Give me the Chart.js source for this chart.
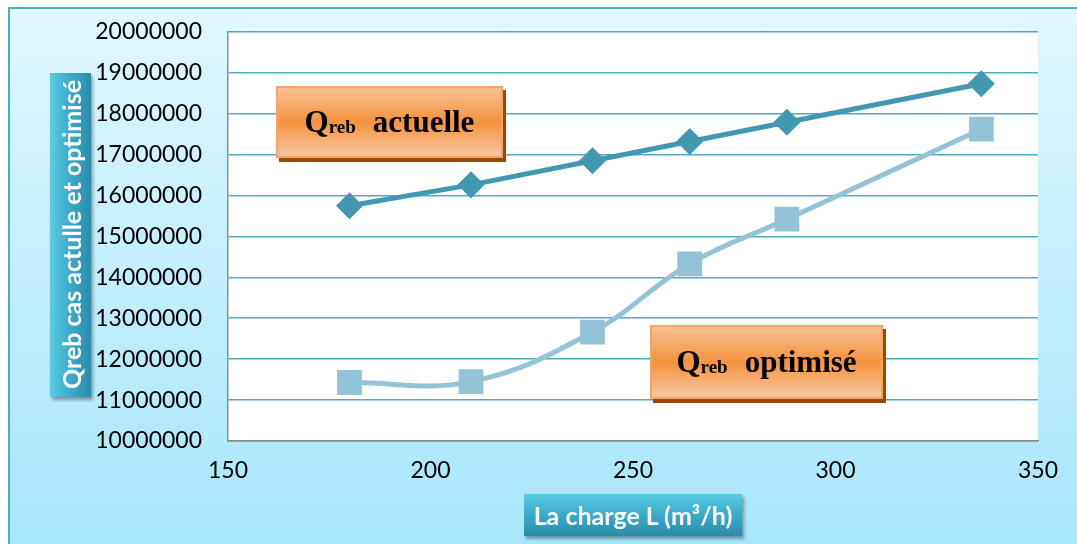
<!DOCTYPE html>
<html>
<head>
<meta charset="utf-8">
<script src="https://cdn.jsdelivr.net/npm/chart.js@4.4.1/dist/chart.umd.min.js"></script>
<style>
  body { margin: 0; background: #ffffff; }
  #wrap { position: relative; width: 1077px; height: 544px; overflow: hidden; }
  #frame {
    position: absolute; left: 8px; top: 7px; width: 1100px; height: 560px;
    border: 2px solid #4bacc6; box-sizing: border-box;
    background: linear-gradient(to bottom, #e0f7fd 0%, #c4effb 45%, #a4e7fb 100%);
  }
  #chart { position: absolute; left: 0; top: -8px; }
  .note {
    position: absolute; box-sizing: border-box;
    border: 2px solid #f8a35f;
    background: linear-gradient(to bottom, #f9c193 0%, #f5923f 50%, #f9c6a0 100%);
    box-shadow: 3px 4px 0 #984807;
    display: flex; align-items: center; justify-content: center;
    font-family: "Liberation Serif", "Times New Roman", serif; font-weight: bold;
    font-size: 31px; color: #000;
  }
  .note span { white-space: nowrap; }
  .note sub { font-size: 19px; vertical-align: -1px; margin-right: 17px; }
  .axisTitle {
    position: absolute; box-sizing: border-box; color: #fff;
    font-family: Lato, "Open Sans", sans-serif; font-weight: bold;
    display: flex; align-items: center; justify-content: center;
    box-shadow: 2px 3px 3px rgba(0,0,0,0.35);
  }
  #yTitle {
    left: 50px; top: 73px; width: 41px; height: 324px;
    background: linear-gradient(to right, #5ccbe4 0%, #3fb0cf 40%, #2a8ca8 100%);
    font-size: 25px;
  }
  #yTitle span { writing-mode: vertical-rl; transform: rotate(180deg); white-space: nowrap; }
  #xTitle {
    left: 524px; top: 494px; width: 218px; height: 42px;
    background: linear-gradient(to bottom, #5ccbe4 0%, #3fb0cf 40%, #2a8ca8 100%);
    font-size: 25px; white-space: nowrap;
  }
</style>
</head>
<body>
<div id="wrap">
  <div id="frame"></div>
  <canvas id="chart" width="1077" height="552"></canvas>
  <div class="note" style="left:276px; top:86px; width:227px; height:72px;"><span>Q<sub>reb</sub>actuelle</span></div>
  <div class="note" style="left:650px; top:325px; width:233px; height:74px;"><span>Q<sub>reb</sub>optimisé</span></div>
  <div class="axisTitle" id="yTitle"><span>Qreb cas actulle et optimisé</span></div>
  <div class="axisTitle" id="xTitle">La charge L (m³/h)</div>
</div>
<script>
// Data
const charge = [180, 210, 240, 264, 288, 336];
const qrebActuelle = [15750000, 16260000, 16850000, 17320000, 17790000, 18730000];
const qrebOptimise = [11430000, 11450000, 12660000, 14330000, 15420000, 17620000];
const xTicks = [150, 200, 250, 300, 350];
const yTicks = [10000000, 11000000, 12000000, 13000000, 14000000, 15000000,
                16000000, 17000000, 18000000, 19000000, 20000000];

function toPoints(ys) {
    return charge.map((x, i) => ({ x: x, y: ys[i] }));
}

// White plot area
const plotBackground = {
    id: 'plotBackground',
    beforeDraw(chart) {
        const { ctx, chartArea } = chart;
        ctx.save();
        ctx.fillStyle = '#ffffff';
        ctx.fillRect(chartArea.left, chartArea.top, chartArea.right - chartArea.left, chartArea.bottom - chartArea.top);
        ctx.restore();
    }
};

const tickFont = { family: 'Lato', size: 23 };

new Chart(document.getElementById('chart'), {
    type: 'line',
    data: {
        datasets: [
            {
                label: 'Qreb actuelle',
                data: toPoints(qrebActuelle),
                borderColor: '#4398b1',
                backgroundColor: '#4398b1',
                borderWidth: 5,
                pointStyle: 'rectRot',
                pointRadius: 10,
                pointHoverRadius: 10,
                tension: 0
            },
            {
                label: 'Qreb optimisé',
                data: toPoints(qrebOptimise),
                borderColor: '#92c3d6',
                backgroundColor: '#92c3d6',
                borderWidth: 5,
                pointStyle: 'rect',
                pointRadius: 14,
                pointHoverRadius: 14,
                tension: 0.4
            }
        ]
    },
    options: {
        responsive: false,
        animation: false,
        layout: { padding: { left: 0, top: 24, right: 39, bottom: 0 } },
        plugins: { legend: { display: false }, tooltip: { enabled: false } },
        scales: {
            x: {
                type: 'linear',
                min: 150, max: 350,
                afterBuildTicks: scale => { scale.ticks = xTicks.map(v => ({ value: v })); },
                afterFit: scale => { scale.height = 103; },
                grid: { display: false, drawTicks: false },
                border: { display: true, color: '#8c8c8c', width: 1.5 },
                ticks: { color: '#000', font: tickFont, padding: 16, maxRotation: 0 }
            },
            y: {
                min: 10000000, max: 20000000,
                afterBuildTicks: scale => { scale.ticks = yTicks.map(v => ({ value: v })); },
                afterFit: scale => { scale.width = 228; },
                grid: { color: '#4bacc6', lineWidth: 1.5, drawTicks: false },
                border: { display: true, color: '#8c8c8c', width: 1.5 },
                ticks: { color: '#000', font: tickFont, padding: 26, callback: v => String(v) }
            }
        }
    },
    plugins: [plotBackground]
});
</script>
</body>
</html>
